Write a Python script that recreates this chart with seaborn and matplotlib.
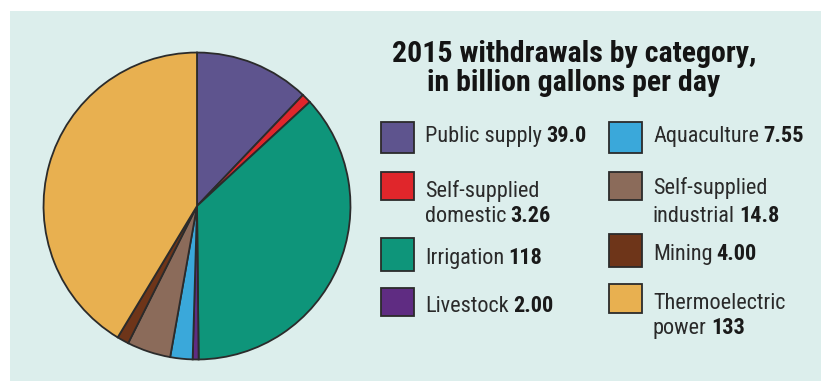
import matplotlib
matplotlib.use("Agg")
import matplotlib.pyplot as plt
import seaborn as sns
from matplotlib.patches import Rectangle

categories = ["Public supply", "Self-supplied domestic", "Irrigation", "Livestock",
              "Aquaculture", "Self-supplied industrial", "Mining", "Thermoelectric power"]
values = [39.0, 3.26, 118, 2.00, 7.55, 14.8, 4.00, 133]
value_labels = ["39.0", "3.26", "118", "2.00", "7.55", "14.8", "4.00", "133"]
colors = ["#5E548E", "#E0262B", "#0E957A", "#5F2C82", "#3AA8DA", "#8B6B5A", "#6E3519", "#E8B050"]
title_lines = ["2015 withdrawals by category,", "in billion gallons per day"]

sns.set_theme(style="white")
plt.rcParams['font.family'] = ['Roboto Condensed', 'Liberation Sans', 'DejaVu Sans']

W, H = 821, 381
fig = plt.figure(figsize=(W / 100, H / 100), dpi=100)
fig.patch.set_facecolor("white")

bg = fig.add_axes([0, 0, 1, 1])
bg.set_xlim(0, W)
bg.set_ylim(H, 0)
bg.axis("off")
bg.add_patch(Rectangle((10, 11), W - 10, H - 11, facecolor="#DCEEEC", edgecolor="none"))

cx, cy, r = 197, 206, 155
pax = fig.add_axes([(cx - r) / W, (H - cy - r) / H, 2 * r / W, 2 * r / H])
pal = sns.color_palette(colors)
pax.pie(values, colors=pal, startangle=90, counterclock=False, radius=1,
        wedgeprops=dict(edgecolor="#2b2b2b", linewidth=1.3))
pax.set_xlim(-1.01, 1.01)
pax.set_ylim(-1.01, 1.01)
pax.set_aspect("equal")
pax.axis("off")

# title
bg.text(574, 62, title_lines[0], ha="center", va="baseline", fontsize=21.5, fontweight="bold", color="#141414")
bg.text(574, 91, title_lines[1], ha="center", va="baseline", fontsize=21.5, fontweight="bold", color="#141414")

# legend layout (pixel positions)
sq = [(381, 122, 33, 31), (381, 172, 33, 28), (381, 238, 33, 33), (381, 288, 33, 28),
      (609, 122, 33, 31), (609, 172, 33, 28), (609, 234, 33, 33), (609, 284, 33, 29)]
lines = [(["Public supply"], [142]),
         (["Self-supplied", "domestic"], [197, 222]),
         (["Irrigation"], [264]),
         (["Livestock"], [312]),
         (["Aquaculture"], [142]),
         (["Self-supplied", "industrial"], [194, 222]),
         (["Mining"], [260]),
         (["Thermoelectric", "power"], [309, 334])]
fs = 16
for i in range(len(categories)):
    x, y, w, h = sq[i]
    bg.add_patch(Rectangle((x, y), w, h, facecolor=pal[i], edgecolor="#2b2b2b", linewidth=1.3))
    tx = x + 44
    txt_lines, bases = lines[i]
    for j, (t, b) in enumerate(zip(txt_lines, bases)):
        tt = bg.text(tx, b, t, ha="left", va="baseline", fontsize=fs, color="#2a2a2a")
        if j == len(txt_lines) - 1:
            bg.annotate(value_labels[i], xy=(1, 0), xycoords=tt, xytext=(3, 0),
                        textcoords="offset points", ha="left", va="bottom",
                        fontsize=fs, fontweight="bold", color="#1a1a1a")

fig.savefig("out.png", dpi=100)
